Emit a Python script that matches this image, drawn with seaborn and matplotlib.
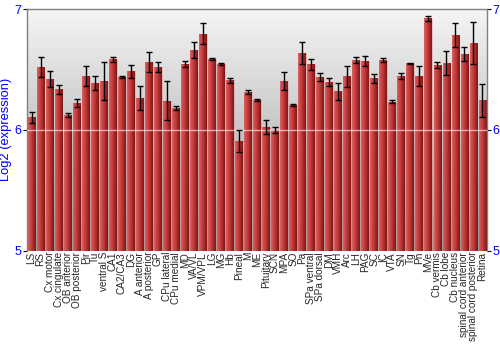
import numpy as np
import pandas as pd
import matplotlib
matplotlib.use("Agg")
import matplotlib.pyplot as plt
import seaborn as sns

regions = ["LS", "RS", "Cx motor", "Cx cingulate", "OB anterior", "OB posterior", "Pir", "Tu",
           "ventral S", "CA1", "CA2/CA3", "DG", "A anterior", "A posterior", "GP", "CPu lateral",
           "CPu medial", "MD", "VA/VL", "VPM/VPL", "LG", "MG", "Hb", "Pineal", "M", "ME",
           "Pituitary", "SCN", "MPA", "SO", "Pa", "SPa ventral", "SPa dorsal", "DM", "VMH", "Arc",
           "LH", "PAG", "SC", "IC", "VTA", "SN", "Tg", "Pn", "MVe", "Cb vermis", "Cb lobe",
           "Cb nucleus", "spinal cord anterior", "spinal cord posterior", "Retina"]
expression = [6.104, 6.521, 6.422, 6.336, 6.125, 6.222, 6.447, 6.386,
              6.405, 6.585, 6.438, 6.485, 6.261, 6.563, 6.521, 6.241,
              6.183, 6.546, 6.660, 6.795, 6.588, 6.546, 6.410, 5.907, 6.316, 6.247,
              6.026, 5.998, 6.405, 6.206, 6.635, 6.541, 6.438, 6.397, 6.319, 6.441,
              6.577, 6.569, 6.427, 6.577, 6.233, 6.444, 6.549, 6.444, 6.922, 6.535, 6.554,
              6.787, 6.629, 6.718, 6.245]
errors = [0.045, 0.080, 0.065, 0.035, 0.017, 0.030, 0.083, 0.060,
          0.155, 0.020, 0.005, 0.055, 0.100, 0.083, 0.040, 0.160,
          0.017, 0.025, 0.068, 0.087, 0.011, 0.007, 0.022, 0.088, 0.015, 0.007,
          0.057, 0.023, 0.076, 0.006, 0.091, 0.044, 0.030, 0.033, 0.073, 0.085,
          0.026, 0.039, 0.037, 0.014, 0.011, 0.025, 0.006, 0.082, 0.024, 0.026, 0.102,
          0.100, 0.061, 0.174, 0.136]
yticks = [5, 6, 7]
ymin, ymax = 5, 7

sns.set_style("white")
plt.rcParams['font.family'] = ['Liberation Sans', 'DejaVu Sans']

df = pd.DataFrame({"region": regions, "expr": expression})

fig = plt.figure(figsize=(5, 3.5), dpi=100)
ax = fig.add_axes([0.054, 0.284, 0.92, 0.69])

sns.barplot(data=df, x="region", y="expr", errorbar=None, color="#b03535",
            width=0.86, ax=ax, zorder=2)

# background gradient
bg = np.linspace(0.96, 0.60, 256)[:, None] * np.ones((256, 2))
ax.imshow(np.dstack([bg, bg, bg]), extent=[0, 1, 0, 1], transform=ax.transAxes,
          aspect="auto", zorder=0, interpolation="bilinear")

# bar horizontal gradient
xs = np.array([0.0, 0.15, 0.55, 1.0])
cols = np.array([[0.84, 0.40, 0.40], [0.84, 0.32, 0.32], [0.72, 0.20, 0.20], [0.50, 0.08, 0.08]])
t = np.linspace(0, 1, 64)
grad = np.stack([np.interp(t, xs, cols[:, k]) for k in range(3)], axis=-1)[None, :, :]
for p in ax.patches:
    x0, w = p.get_x(), p.get_width()
    h = p.get_height()
    p.set_facecolor("none")
    p.set_edgecolor((0.88, 0.55, 0.55, 0.6))
    p.set_linewidth(0.5)
    im = ax.imshow(grad, extent=[x0, x0 + w, ymin, h], aspect="auto",
                   zorder=2, interpolation="bilinear")

# error bars
for p, e in zip(ax.patches, errors):
    cx = p.get_x() + p.get_width() / 2
    ax.errorbar(cx, p.get_height(), yerr=e, color="black", lw=1.0, capsize=2,
                capthick=1.0, zorder=4)

ax.set_xlim(-0.5, len(regions) - 0.5)
ax.set_ylim(ymin, ymax)
ax.axhline(6, color="white", lw=1, alpha=0.6, zorder=3)

ax.set_yticks(yticks)
ax.set_yticklabels([str(v) for v in yticks])
ax.tick_params(axis="y", which="both", left=True, right=True, labelleft=True, labelright=True,
               labelsize=9, labelcolor="blue", length=3, width=0.8, color="black", pad=1)
ax.tick_params(axis="x", labelsize=7.2, rotation=90, length=0, pad=1)
ax.set_xlabel("")
ax.set_ylabel("Log2 (expression)", color="blue", fontsize=9.3, labelpad=2)
for s in ax.spines.values():
    s.set_color("#808080")
    s.set_linewidth(1)
ax.spines["bottom"].set_visible(False)

fig.savefig("out.png", dpi=100)
